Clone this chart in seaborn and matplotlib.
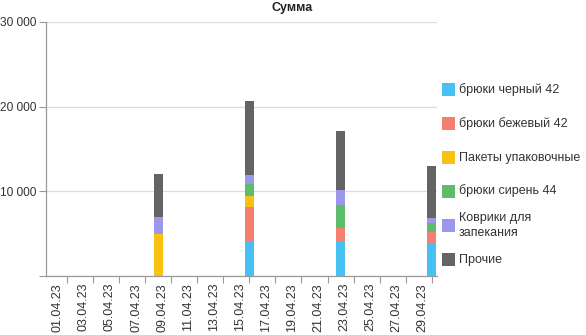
import matplotlib
matplotlib.use("Agg")
import matplotlib.pyplot as plt
import matplotlib.transforms as mtransforms
from matplotlib.patches import Rectangle
import numpy as np
import pandas as pd
import seaborn as sns

# Days of April 2023 shown on the category axis
days = [f"{d:02d}.04.23" for d in range(1, 31)]

# Weekly totals are booked on these dates
bar_days = ["09.04.23", "16.04.23", "23.04.23", "30.04.23"]

series_names = [
    "брюки черный 42",
    "брюки бежевый 42",
    "Пакеты упаковочные",
    "брюки сирень 44",
    "Коврики для\nзапекания",
    "Прочие",
]
black_42 = [0, 4140, 4180, 3790]
beige_42 = [0, 4030, 1460, 1380]
packages = [5000, 1300, 0, 0]
lilac_44 = [0, 1420, 2760, 1140]
baking_mats = [2000, 1060, 1700, 520]
other = [5070, 8680, 6980, 6220]

colors = ["#47C1F3", "#F3806F", "#F8C213", "#5DBC6B", "#9B98EC", "#646464"]

sns.set_theme(style="white")
plt.rcParams["font.family"] = ["Liberation Sans", "DejaVu Sans"]

values = pd.DataFrame(
    [black_42, beige_42, packages, lilac_44, baking_mats, other],
    index=series_names, columns=bar_days,
).T.reindex(days, fill_value=0)

# Stack by drawing cumulative sums, tallest first
cumulative = values.cumsum(axis=1)

W, H = 586, 335
fig = plt.figure(figsize=(W / 100, H / 100), dpi=100)
ax = fig.add_axes([46 / W, 1 - 276 / H, (437 - 46) / W, (276 - 22) / H])

for name, color in reversed(list(zip(series_names, colors))):
    sns.barplot(
        x=days, y=cumulative[name].values, order=days, color=color,
        saturation=1, width=0.68, linewidth=0, errorbar=None, ax=ax,
    )

ax.set_xlim(-0.6, 29.4)
ax.set_ylim(0, 30000)

# y axis
yt = [0, 10000, 20000, 30000]
ax.set_yticks(yt)
ax.set_yticklabels(["" if v == 0 else f"{v:,}".replace(",", " ") for v in yt])
ax.yaxis.grid(True, color="#DCDCDC", linewidth=0.9)
ax.set_axisbelow(True)

# x axis: tick marks between label pairs, labels on every other day
ax.set_xticks(np.arange(1, 30, 2))
ax.set_xticklabels([])
ax.set_xticks(np.arange(0, 30, 2), minor=True)
ax.set_xticklabels(days[::2], minor=True, rotation=90)
ax.set_xlabel("")
ax.set_ylabel("")

ax.tick_params(axis="both", which="major", direction="out", length=5,
               width=0.8, color="#999999", labelsize=9, labelcolor="#333333")
ax.tick_params(axis="x", which="minor", length=0, labelsize=9,
               labelcolor="#333333", pad=5)
ax.tick_params(axis="y", pad=2, left=True, labelsize=8.6)
ax.tick_params(axis="x", bottom=True)

# nudge the rotated date labels slightly to the right
shift = mtransforms.ScaledTranslation(4 / 100, 0, fig.dpi_scale_trans)
for lbl in ax.get_xticklabels(minor=True):
    lbl.set_transform(lbl.get_transform() + shift)

for side in ("top", "right"):
    ax.spines[side].set_visible(False)
for side in ("left", "bottom"):
    ax.spines[side].set_color("#999999")
    ax.spines[side].set_linewidth(0.9)

fig.text(292 / W, 1 - 8 / H, "Сумма", ha="center", va="center",
         fontsize=9, fontweight="bold", color="#222222")

# Legend on the right
legend_y = [90, 123.5, 157.5, 191, 225.5, 259.5]
for name, color, yc in zip(series_names, colors, legend_y):
    fig.patches.append(Rectangle(((442) / W, 1 - (yc + 6.5) / H), 13 / W, 13 / H,
                                 transform=fig.transFigure, facecolor=color,
                                 edgecolor="none"))
    fig.text(459 / W, 1 - yc / H, name, ha="left", va="center",
             fontsize=9, color="#333333", linespacing=1.3)

fig.savefig("out.png", dpi=100)
